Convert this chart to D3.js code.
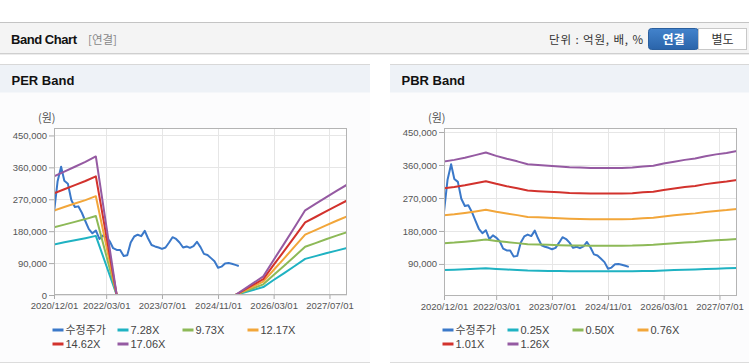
<!DOCTYPE html>
<html><head><meta charset="utf-8">
<script src="https://cdn.jsdelivr.net/npm/d3@7"></script>
<style>
body{margin:0;background:#fff;font-family:"Liberation Sans",Arial,"Noto Sans CJK KR",sans-serif;}
svg{display:block}
</style></head><body>
<svg id="c" width="749" height="364"></svg>
<script>
// ---------- DATA ----------
const xTickLabels = ["2020-12-01","2022-03-01","2023-07-01","2024-11-01","2026-03-01","2027-07-01"];
const perYTicks = [0,90000,180000,270000,360000,450000];
const pbrYTicks = [90000,180000,270000,360000,450000];

const priceDates = ["2020-12","2021-01","2021-02","2021-03","2021-04","2021-05","2021-06","2021-07","2021-08","2021-09","2021-10","2021-11",
  "2021-12","2022-01","2022-02","2022-03","2022-04","2022-05","2022-06","2022-07","2022-08","2022-09","2022-10","2022-11",
  "2022-12","2023-01","2023-02","2023-03","2023-04","2023-05","2023-06","2023-07","2023-08","2023-09","2023-10","2023-11",
  "2023-12","2024-01","2024-02","2024-03","2024-04","2024-05","2024-06","2024-07","2024-08","2024-09","2024-10","2024-11",
  "2024-12","2025-01","2025-02","2025-03","2025-04","2025-05"];
const price = [232000,320000,362000,322000,314000,268000,248000,250000,232000,208000,186000,174000,
  182000,158000,168000,162000,152000,132000,127000,127000,110000,112000,148000,165000,
  170000,166000,181000,160000,141000,137000,134000,130000,134000,148000,163000,158000,
  148000,134000,137000,133000,138000,150000,135000,116000,113000,104000,95000,77000,
  80000,89000,90000,88000,85000,82000];

const perDates = ["2020-12","2021-03","2021-06","2021-09","2021-12","2022-06","2023-12","2025-04","2025-12","2026-03","2026-06","2026-09","2026-12","2027-03","2027-06","2027-09","2027-12"];
const per728  = [142700,148500,154300,160200,166700,0,null,0,22400,42200,61900,81900,101900,109600,117600,125200,132700];
const per973  = [190700,198500,206300,214100,222800,0,null,0,30000,56400,82700,109500,136200,146400,157100,167400,177400];
const per1217 = [238500,248300,258000,267700,278700,0,null,0,37500,70600,103400,136900,170400,183200,196600,209300,221900];
const per1462 = [286600,298200,309900,321600,334800,0,null,0,45000,84800,124300,164500,204700,220000,236100,251500,266500];
const per1706 = [334400,348000,361700,375300,390700,0,null,0,52500,98900,145000,191900,238800,256800,275500,293400,311000];

const pbrDates = ["2020-12","2021-03","2021-06","2021-09","2021-12","2022-03","2022-06","2022-09","2022-12","2023-03","2023-06","2023-09","2023-12","2024-03","2024-06","2024-09","2024-12","2025-03","2025-06","2025-09","2025-12","2026-03","2026-06","2026-09","2026-12","2027-03","2027-06","2027-09","2027-12"];
const pbr025 = [73300,74200,75400,76800,78200,76400,74800,73400,71800,71400,71000,70600,70200,70000,69800,69800,69800,69800,70000,70600,71000,72200,73200,74200,75000,76200,77200,78000,79000];
const pbr050 = [146700,148400,150800,153600,156400,152800,149600,146800,143700,142900,142100,141300,140500,140100,139700,139700,139700,139700,140100,141300,142100,144400,146400,148400,150000,152400,154400,156000,157900];
const pbr076 = [222900,225600,229200,233400,237600,232200,227400,223200,218400,217100,215900,214700,213500,212900,212300,212300,212300,212300,212900,214700,215900,219600,222600,225600,228000,231600,234600,237000,240100];
const pbr101 = [296300,299800,304600,310200,315800,308600,302200,296600,290200,288600,287000,285400,283800,283000,282200,282200,282200,282200,283000,285400,287000,291800,295800,299800,303000,307800,311800,315000,319000];
const pbr126 = [369600,374000,380000,387000,394000,385000,377000,370000,362000,360000,358000,356000,354000,353000,352000,352000,352000,352000,353000,356000,358000,364000,369000,374000,378000,384000,389000,393000,398000];

const perNames = ["수정주가","7.28X","9.73X","12.17X","14.62X","17.06X"];
const pbrNames = ["수정주가","0.25X","0.50X","0.76X","1.01X","1.26X"];
const colors = ["#3a78c9","#1fb2c2","#8db957","#f2a63a","#d2322d","#955aa2"];

// ---------- DRAW ----------
const svg = d3.select("#c");
const pM = d3.timeParse("%Y-%m");
const pD = d3.timeParse("%Y-%m-%d");
const KR = "'Noto Sans CJK KR','Liberation Sans',sans-serif";

// page header
svg.append("rect").attr("x",0).attr("y",22).attr("width",749).attr("height",31).attr("fill","#f4f4f4");
svg.append("line").attr("x1",0).attr("x2",749).attr("y1",22.5).attr("y2",22.5).attr("stroke","#c4c4c4");
svg.append("line").attr("x1",0).attr("x2",749).attr("y1",53.5).attr("y2",53.5).attr("stroke","#cfcfcf");
svg.append("line").attr("x1",0).attr("x2",749).attr("y1",54.5).attr("y2",54.5).attr("stroke","#ececec");
svg.append("text").attr("x",11).attr("y",44).attr("font-size","13px").attr("font-weight","bold").attr("fill","#111").attr("textLength",66).text("Band Chart");
svg.append("text").attr("x",88).attr("y",44).attr("font-size","11.5px").attr("fill","#888").style("font-family",KR).text("[연결]");
svg.append("text").attr("x",549).attr("y",43.5).attr("font-size","11.5px").attr("fill","#333").attr("textLength",94).style("font-family",KR).text("단위 : 억원, 배, %");
const grad = svg.append("defs").append("linearGradient").attr("id","btn").attr("x1",0).attr("x2",0).attr("y1",0).attr("y2",1);
grad.append("stop").attr("offset","0").attr("stop-color","#4383cc");
grad.append("stop").attr("offset","1").attr("stop-color","#2a64aa");
svg.append("rect").attr("x",648.5).attr("y",28.5).attr("width",50).attr("height",21).attr("rx",3).attr("fill","url(#btn)").attr("stroke","#2a5f9e");
svg.append("rect").attr("x",698.5).attr("y",28.5).attr("width",48).attr("height",21).attr("fill","#fff").attr("stroke","#c8c8c8");
svg.append("text").attr("x",673.5).attr("y",43.5).attr("font-size","12px").attr("font-weight","bold").attr("fill","#fff").attr("text-anchor","middle").style("font-family",KR).text("연결");
svg.append("text").attr("x",722.5).attr("y",43.5).attr("font-size","12px").attr("fill","#333").attr("text-anchor","middle").style("font-family",KR).text("별도");

function drawPanel(cfg){
  const g = svg.append("g");
  g.append("rect").attr("x",cfg.px).attr("y",64).attr("width",cfg.pw).attr("height",299).attr("fill","#fcfcfd");
  g.append("rect").attr("x",cfg.px).attr("y",64.5).attr("width",cfg.pw).attr("height",28).attr("fill","#eef2f7");
  g.append("line").attr("x1",cfg.px).attr("x2",cfg.px+cfg.pw).attr("y1",64.5).attr("y2",64.5).attr("stroke","#d8d8d8");
  g.append("line").attr("x1",cfg.px).attr("x2",cfg.px+cfg.pw).attr("y1",362.5).attr("y2",362.5).attr("stroke","#dcdcdc");
  g.append("text").attr("x",cfg.px+11.5).attr("y",85).attr("font-size","13px").attr("font-weight","bold").attr("fill","#111").text(cfg.title);
  g.append("text").attr("x",cfg.unitX).attr("y",122).attr("font-size","11px").attr("fill","#555").style("font-family",KR).text("(원)");

  const x = d3.scaleTime().domain([pM("2020-12"), pM("2027-12")]).range([cfg.left, cfg.right]);
  const y = d3.scaleLinear().domain(cfg.yDomain).range([cfg.bottom, cfg.top]);
  const xt = xTickLabels.map(pD);

  g.append("rect").attr("x",cfg.left).attr("y",cfg.top).attr("width",cfg.right-cfg.left).attr("height",cfg.bottom-cfg.top).attr("fill","#fff");
  g.selectAll(".hg").data(cfg.yTicks).join("line")
    .attr("x1",cfg.left).attr("x2",cfg.right)
    .attr("y1",d=>Math.round(y(d))+0.5).attr("y2",d=>Math.round(y(d))+0.5)
    .attr("stroke","#e6e6e6");
  g.selectAll(".vg").data(xt).join("line")
    .attr("x1",d=>Math.round(x(d))+0.5).attr("x2",d=>Math.round(x(d))+0.5)
    .attr("y1",cfg.top).attr("y2",cfg.bottom)
    .attr("stroke","#e6e6e6");

  const ya = g.append("g").attr("transform",`translate(${cfg.left},0)`)
    .call(d3.axisLeft(y).tickValues(cfg.yTicks).tickSize(5).tickPadding(2).tickFormat(d3.format(",")));
  const xa = g.append("g").attr("transform",`translate(0,${cfg.bottom})`)
    .call(d3.axisBottom(x).tickValues(xt).tickSize(4).tickPadding(3).tickFormat(d3.timeFormat("%Y/%m/%d")));
  [ya,xa].forEach(a=>{
    a.select(".domain").remove();
    a.selectAll("line").attr("stroke","#aaa");
    a.selectAll("text").attr("fill","#555").attr("font-size","9.5px").style("font-family","'Liberation Sans',Arial,sans-serif");
  });

  const cid = "clip"+cfg.title.replace(/\s/g,"");
  svg.select("defs").append("clipPath").attr("id",cid).append("rect")
    .attr("x",cfg.left).attr("y",cfg.top).attr("width",cfg.right-cfg.left).attr("height",cfg.bottom-cfg.top);
  const lg = g.append("g").attr("clip-path",`url(#${cid})`);
  const line = d3.line().defined(d=>d[1]!=null).x(d=>x(d[0])).y(d=>y(d[1]));

  const all = [[priceDates, price]].concat(cfg.bands.map(b=>[cfg.bandDates,b]));
  all.forEach((s,i)=>{
    const pts = s[0].map((d,j)=>[pM(d), s[1][j]]);
    lg.append("path").attr("d",line(pts)).attr("fill","none")
      .attr("stroke",colors[i]).attr("stroke-width",2).attr("stroke-linejoin","round");
  });

  g.append("rect").attr("x",cfg.left+0.5).attr("y",cfg.top+0.5).attr("width",cfg.right-cfg.left-1).attr("height",cfg.bottom-cfg.top-1)
    .attr("fill","none").attr("stroke","#b4b4b4");

  cfg.names.forEach((n,i)=>{
    const col = i%4, row = Math.floor(i/4);
    const lx = cfg.legX + col*65, ly = 330 + row*14;
    g.append("line").attr("x1",lx).attr("x2",lx+11).attr("y1",ly).attr("y2",ly).attr("stroke",colors[i]).attr("stroke-width",3);
    g.append("text").attr("x",lx+13).attr("y",ly+4).attr("font-size","11px").attr("fill","#444")
      .style("font-family", i===0?KR:"'Liberation Sans',Arial,sans-serif").text(n);
  });
}

drawPanel({title:"PER Band", px:0, pw:370, unitX:38, left:54, right:347, top:128, bottom:295,
  yDomain:[0,471000], yTicks:perYTicks, bandDates:perDates, bands:[per728,per973,per1217,per1462,per1706],
  names:perNames, legX:52.5});
drawPanel({title:"PBR Band", px:390, pw:359, unitX:428, left:444, right:737, top:128, bottom:296,
  yDomain:[2500,461000], yTicks:pbrYTicks, bandDates:pbrDates, bands:[pbr025,pbr050,pbr076,pbr101,pbr126],
  names:pbrNames, legX:442.5});
</script>
</body></html>
